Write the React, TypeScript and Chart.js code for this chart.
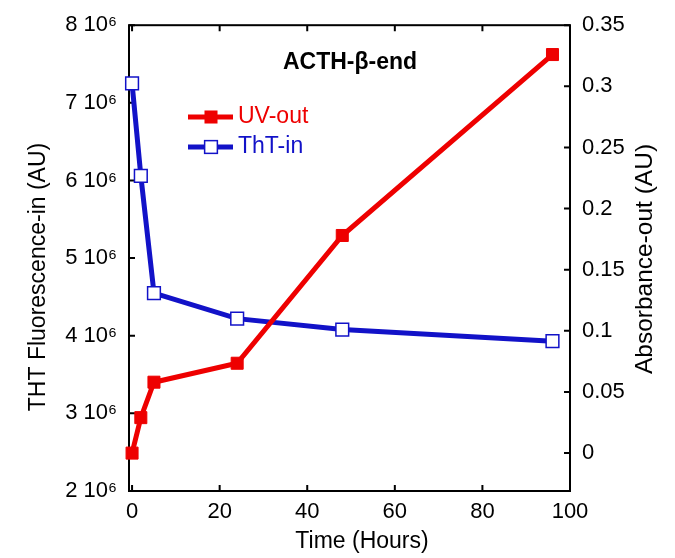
import React, { useEffect, useRef } from "react";
import { Chart, registerables } from "chart.js";

Chart.register(...registerables);

// ---- data ----
const hours = [0, 2, 5, 24, 48, 96];
const uvOut = [0.0, 0.029, 0.058, 0.0735, 0.178, 0.326];
const thtIn = [7250000, 6060000, 4550000, 4220000, 4080000, 3930000];

const xTickValues = [0, 20, 40, 60, 80, 100];
const xTickLabels = ["0", "20", "40", "60", "80", "100"];
const leftTickValues = [2000000, 3000000, 4000000, 5000000, 6000000, 7000000, 8000000];
const leftTickLabels = ["2 10⁶", "3 10⁶", "4 10⁶", "5 10⁶", "6 10⁶", "7 10⁶", "8 10⁶"];
const rightTickValues = [0, 0.05, 0.1, 0.15, 0.2, 0.25, 0.3, 0.35];
const rightTickLabels = ["0", "0.05", "0.1", "0.15", "0.2", "0.25", "0.3", "0.35"];

const seriesNames = ["UV-out", "ThT-in"];
const chartTitle = "ACTH-β-end";
const xTitle = "Time (Hours)";
const leftTitle = "THT Fluorescence-in (AU)";
const rightTitle = "Absorbance-out (AU)";

// ---- styles ----
const RED = "#ee0000";
const BLUE = "#1212c8";
const FONT = "'Liberation Sans', Arial, sans-serif";
const TICK_SIZE = 22;
const TITLE_SIZE = 23;

const decorPlugin = {
  id: "decor",
  beforeDatasetsDraw(chart: any) {
    const { ctx, chartArea } = chart;
    const { left, right, top, bottom } = chartArea;
    ctx.save();
    ctx.strokeStyle = "#000";
    ctx.lineWidth = 2;
    ctx.strokeRect(left, top, right - left, bottom - top);
    const tl = 6;
    ctx.beginPath();
    const xs = chart.scales.x;
    xs.ticks.forEach((t: any) => {
      const px = xs.getPixelForValue(t.value);
      ctx.moveTo(px, bottom);
      ctx.lineTo(px, bottom - tl);
      ctx.moveTo(px, top);
      ctx.lineTo(px, top + tl);
    });
    const yl = chart.scales.yLeft;
    yl.ticks.forEach((t: any) => {
      const py = yl.getPixelForValue(t.value);
      ctx.moveTo(left, py);
      ctx.lineTo(left + tl, py);
    });
    const yr = chart.scales.yRight;
    yr.ticks.forEach((t: any) => {
      const py = yr.getPixelForValue(t.value);
      ctx.moveTo(right, py);
      ctx.lineTo(right - tl, py);
    });
    ctx.stroke();
    ctx.restore();
  },
  afterDraw(chart: any) {
    const { ctx } = chart;
    ctx.save();
    // title inside plot
    ctx.fillStyle = "#000";
    ctx.font = `bold ${TITLE_SIZE}px ${FONT}`;
    ctx.textAlign = "center";
    ctx.textBaseline = "middle";
    ctx.fillText(chartTitle, 350, 63);

    // legend inside plot
    const rows = [117, 147];
    chart.data.datasets.forEach((ds: any, i: number) => {
      const y = rows[i];
      ctx.strokeStyle = ds.borderColor;
      ctx.lineWidth = ds.borderWidth;
      ctx.beginPath();
      ctx.moveTo(188, y);
      ctx.lineTo(233, y);
      ctx.stroke();
      const half = ds.pointRadius * Math.SQRT1_2;
      ctx.fillStyle = ds.pointBackgroundColor;
      ctx.fillRect(211 - half, y - half, half * 2, half * 2);
      ctx.strokeStyle = ds.pointBorderColor;
      ctx.lineWidth = ds.pointBorderWidth;
      ctx.strokeRect(211 - half, y - half, half * 2, half * 2);
      ctx.fillStyle = ds.borderColor;
      ctx.font = `${TITLE_SIZE}px ${FONT}`;
      ctx.textAlign = "left";
      ctx.textBaseline = "middle";
      ctx.fillText(ds.label, 238, y);
    });

    // axis titles
    ctx.fillStyle = "#000";
    ctx.textAlign = "center";
    ctx.textBaseline = "alphabetic";
    ctx.font = `${TITLE_SIZE}px ${FONT}`;
    ctx.fillText(xTitle, 362, 548);

    ctx.save();
    ctx.translate(45, 277);
    ctx.rotate(-Math.PI / 2);
    ctx.fillText(leftTitle, 0, 0);
    ctx.restore();

    ctx.save();
    ctx.font = `24.5px ${FONT}`;
    ctx.translate(652, 259);
    ctx.rotate(-Math.PI / 2);
    ctx.fillText(rightTitle, 0, 0);
    ctx.restore();

    ctx.restore();
  },
};

export default function App() {
  const ref = useRef<HTMLCanvasElement | null>(null);

  useEffect(() => {
    if (!ref.current) return;
    const tickFont = { family: FONT, size: TICK_SIZE };
    const chart = new Chart(ref.current, {
      type: "line",
      data: {
        datasets: [
          {
            label: seriesNames[0],
            data: hours.map((h, i) => ({ x: h, y: uvOut[i] })),
            yAxisID: "yRight",
            borderColor: RED,
            backgroundColor: RED,
            borderWidth: 5,
            pointStyle: "rect",
            pointRadius: 8.5,
            pointBackgroundColor: RED,
            pointBorderColor: RED,
            pointBorderWidth: 1,
            tension: 0,
            clip: false as any,
          },
          {
            label: seriesNames[1],
            data: hours.map((h, i) => ({ x: h, y: thtIn[i] })),
            yAxisID: "yLeft",
            borderColor: BLUE,
            backgroundColor: "#ffffff",
            borderWidth: 5,
            pointStyle: "rect",
            pointRadius: 9,
            pointBackgroundColor: "#ffffff",
            pointBorderColor: BLUE,
            pointBorderWidth: 1.5,
            tension: 0,
            clip: false as any,
          },
        ],
      },
      options: {
        animation: false,
        responsive: false,
        events: [],
        layout: { padding: { top: 22, left: 0, right: 0, bottom: 0 } },
        plugins: {
          legend: { display: false },
          tooltip: { enabled: false },
          title: { display: false },
        },
        scales: {
          x: {
            type: "linear",
            position: "bottom",
            min: -0.7,
            max: 100,
            grid: { display: false, drawTicks: false },
            border: { display: false },
            afterBuildTicks: (scale: any) => {
              scale.ticks = xTickValues.map((v) => ({ value: v }));
            },
            afterFit: (scale: any) => {
              scale.height = 67;
            },
            ticks: {
              autoSkip: false,
              maxRotation: 0,
              padding: 8,
              color: "#000",
              font: tickFont,
              callback: (v: any) => xTickLabels[xTickValues.indexOf(Number(v))],
            },
          },
          yLeft: {
            type: "linear",
            position: "left",
            min: 2000000,
            max: 8000000,
            grid: { display: false, drawTicks: false },
            border: { display: false },
            afterBuildTicks: (scale: any) => {
              scale.ticks = leftTickValues.map((v) => ({ value: v }));
            },
            afterFit: (scale: any) => {
              scale.width = 129;
            },
            ticks: {
              autoSkip: false,
              padding: 12,
              color: "#000",
              font: tickFont,
              callback: (v: any) => leftTickLabels[leftTickValues.indexOf(Number(v))],
            },
          },
          yRight: {
            type: "linear",
            position: "right",
            min: -0.031,
            max: 0.35,
            grid: { display: false, drawTicks: false },
            border: { display: false },
            afterBuildTicks: (scale: any) => {
              scale.ticks = rightTickValues.map((v) => ({ value: v }));
            },
            afterFit: (scale: any) => {
              scale.width = 105;
            },
            ticks: {
              autoSkip: false,
              padding: 12,
              color: "#000",
              font: tickFont,
              callback: (v: any) => rightTickLabels[rightTickValues.indexOf(Number(v))],
            },
          },
        },
      },
      plugins: [decorPlugin],
    } as any);
    return () => chart.destroy();
  }, []);

  return (
    <div style={{ position: "fixed", left: 0, top: 0, width: 675, height: 558, background: "#fff" }}>
      <canvas ref={ref} width={675} height={558} />
    </div>
  );
}
